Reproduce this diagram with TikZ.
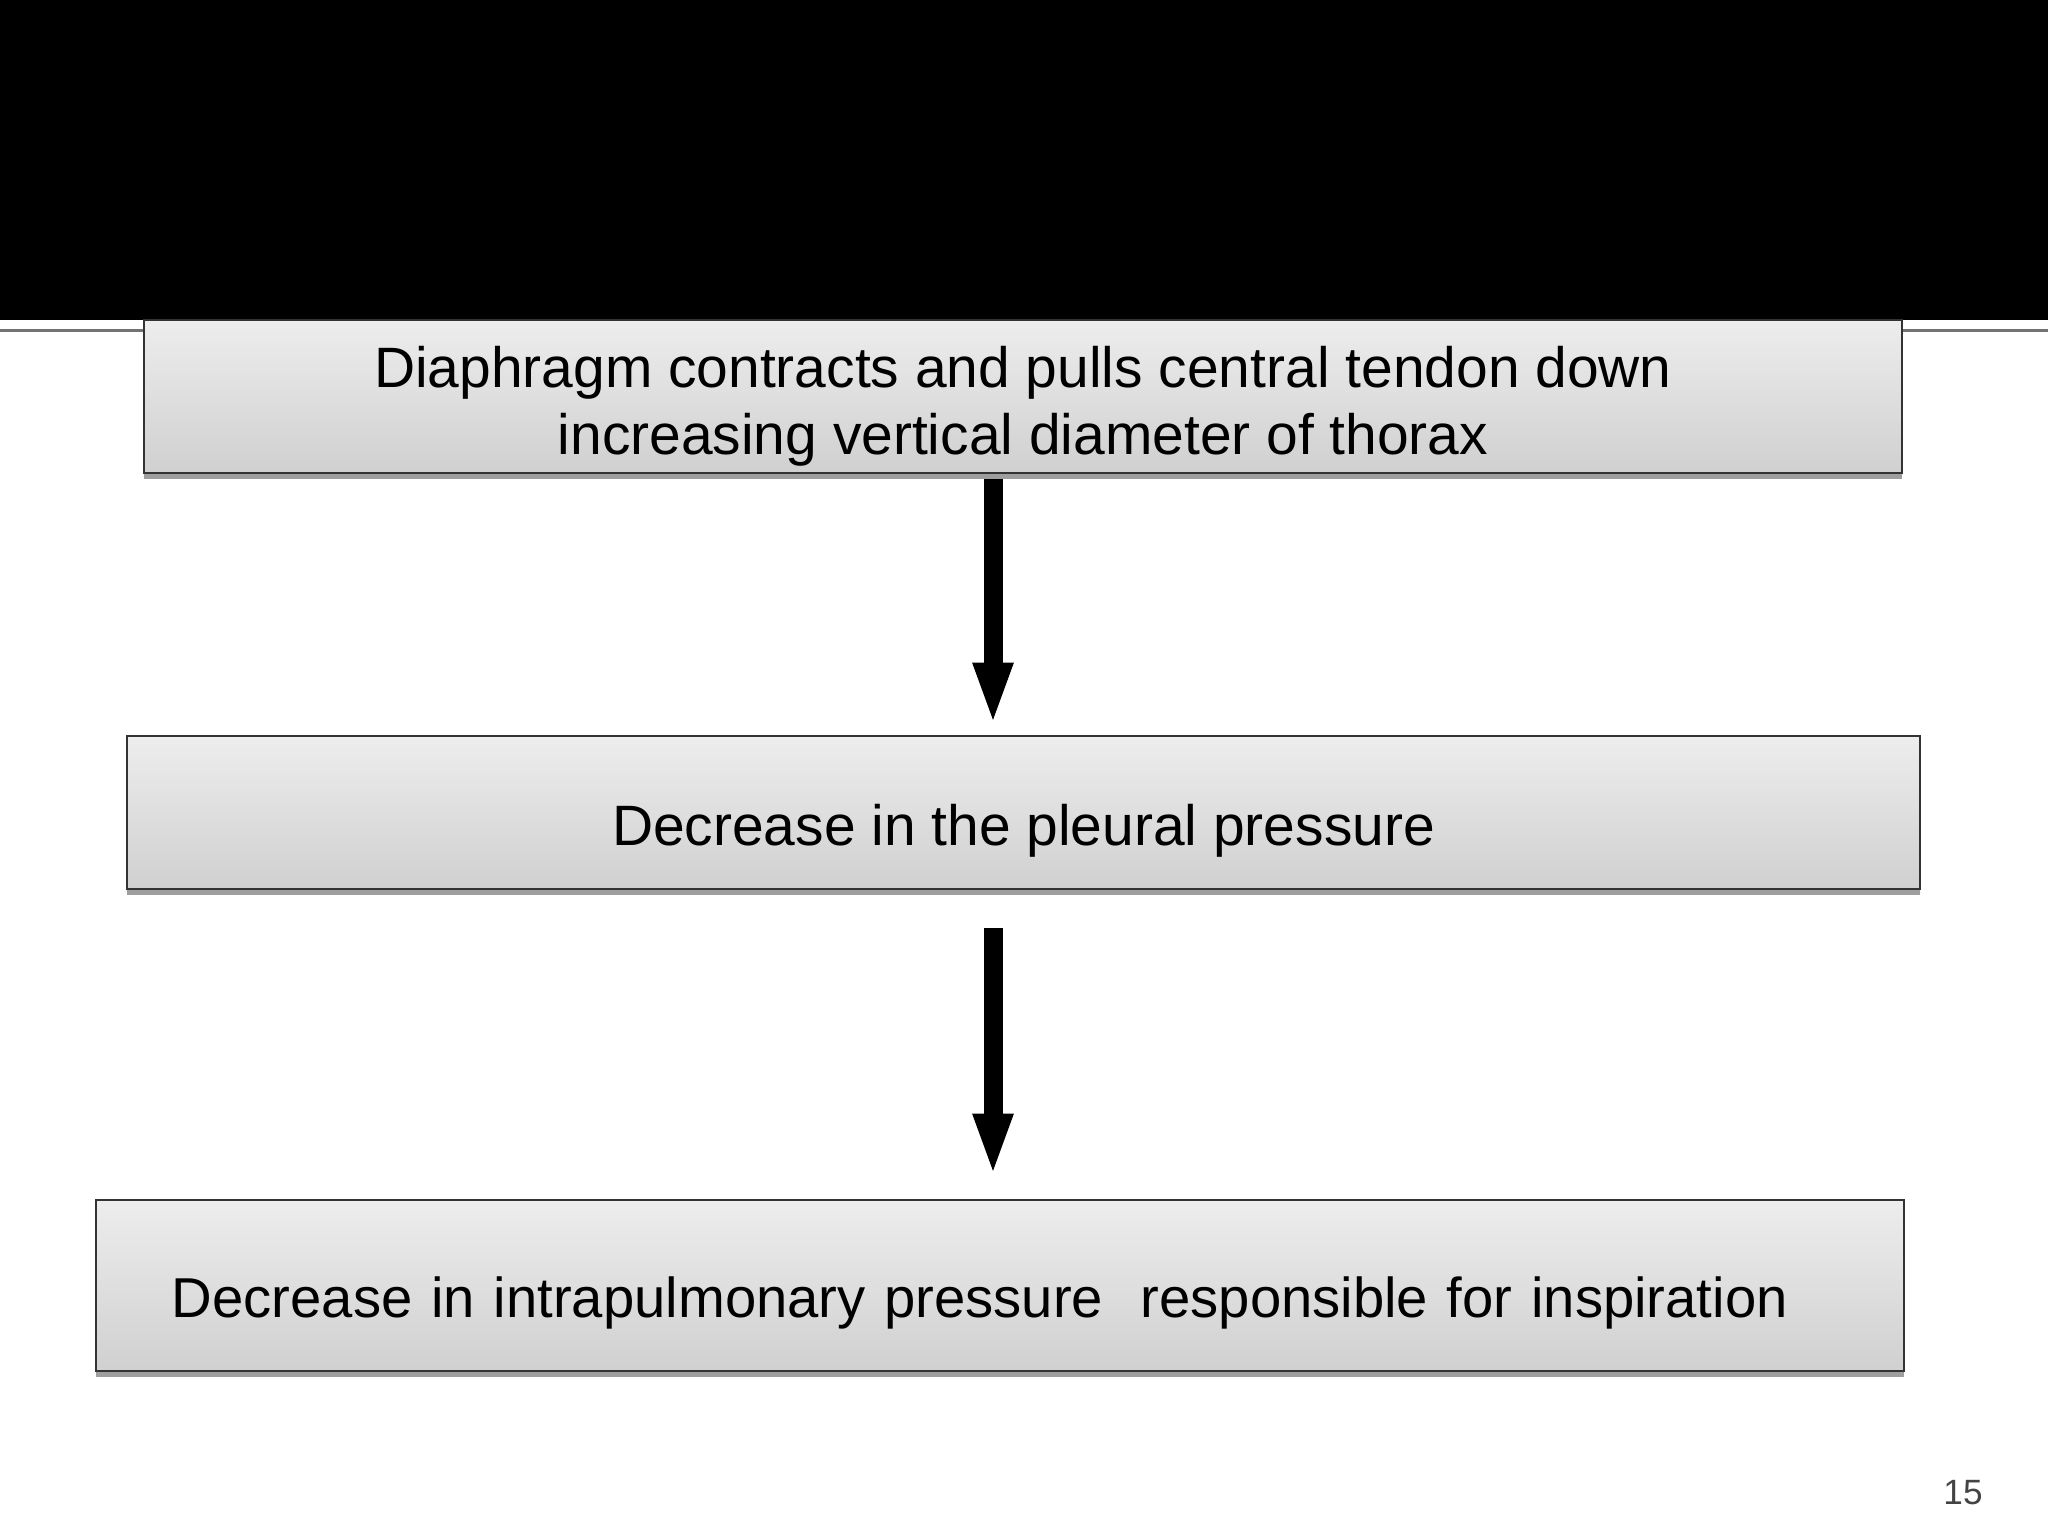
\documentclass[tikz,border=0pt]{standalone}
\usepackage{fontspec}
\setmainfont{Liberation Sans}
\usetikzlibrary{arrows.meta,shadows}

\definecolor{boxtop}{HTML}{EDEDED}
\definecolor{boxbot}{HTML}{D0D0D0}
\definecolor{boxline}{HTML}{333333}
\definecolor{pagegray}{HTML}{444444}

\begin{document}
\begin{tikzpicture}[x=1cm,y=1cm,
    flowbox/.style={draw=boxline,line width=0.8pt,top color=boxtop,bottom color=boxbot,
      drop shadow={shadow xshift=0pt,shadow yshift=-0.06cm,fill=black!38,opacity=1},
      font=\fontsize{16.2}{19.3}\selectfont,inner sep=0pt},
    bigarrow/.style={line width=0.19cm,-{Triangle[width=0.36cm,length=0.63cm]}}]
  \useasboundingbox (0,0) rectangle (20.48,-15.36);
  % title bar
  \fill[black] (0,0) rectangle (20.48,-3.20);
  \draw[black!55,line width=0.03cm] (0,-3.31) -- (20.48,-3.31);

  \node[flowbox,minimum width=17.58cm,minimum height=1.53cm,align=center] (b1) at (10.23,-3.965)
    {\raisebox{-0.585cm}[0pt][0pt]{\parbox[b]{17cm}{\centering Diaphragm contracts and pulls central tendon down\\increasing vertical diameter of thorax}}};
  \node[flowbox,minimum width=17.93cm,minimum height=1.53cm] (b2) at (10.235,-8.125)
    {\raisebox{-0.33cm}[0pt][0pt]{Decrease in the pleural pressure}};
  \node[flowbox,font=\fontsize{16}{19}\selectfont,minimum width=18.08cm,minimum height=1.71cm,text width=16.56cm,align=left] (b3) at (10.00,-12.855)
    {\raisebox{-0.315cm}[0pt][0pt]{Decrease in intrapulmonary pressure\ \ responsible for inspiration}};

  \coordinate (ax) at (9.93,0);
  \draw[bigarrow] ([yshift=-0.05cm]b1.south -| ax) -- ([yshift=0.09cm]b2.north -| ax);
  \draw[bigarrow] ([yshift=-0.38cm]b2.south -| ax) -- ([yshift=0.22cm]b3.north -| ax);

  \node[text=pagegray,font=\fontsize{10}{12}\selectfont] (pg) at (19.63,-14.93) {15};
\end{tikzpicture}
\end{document}
